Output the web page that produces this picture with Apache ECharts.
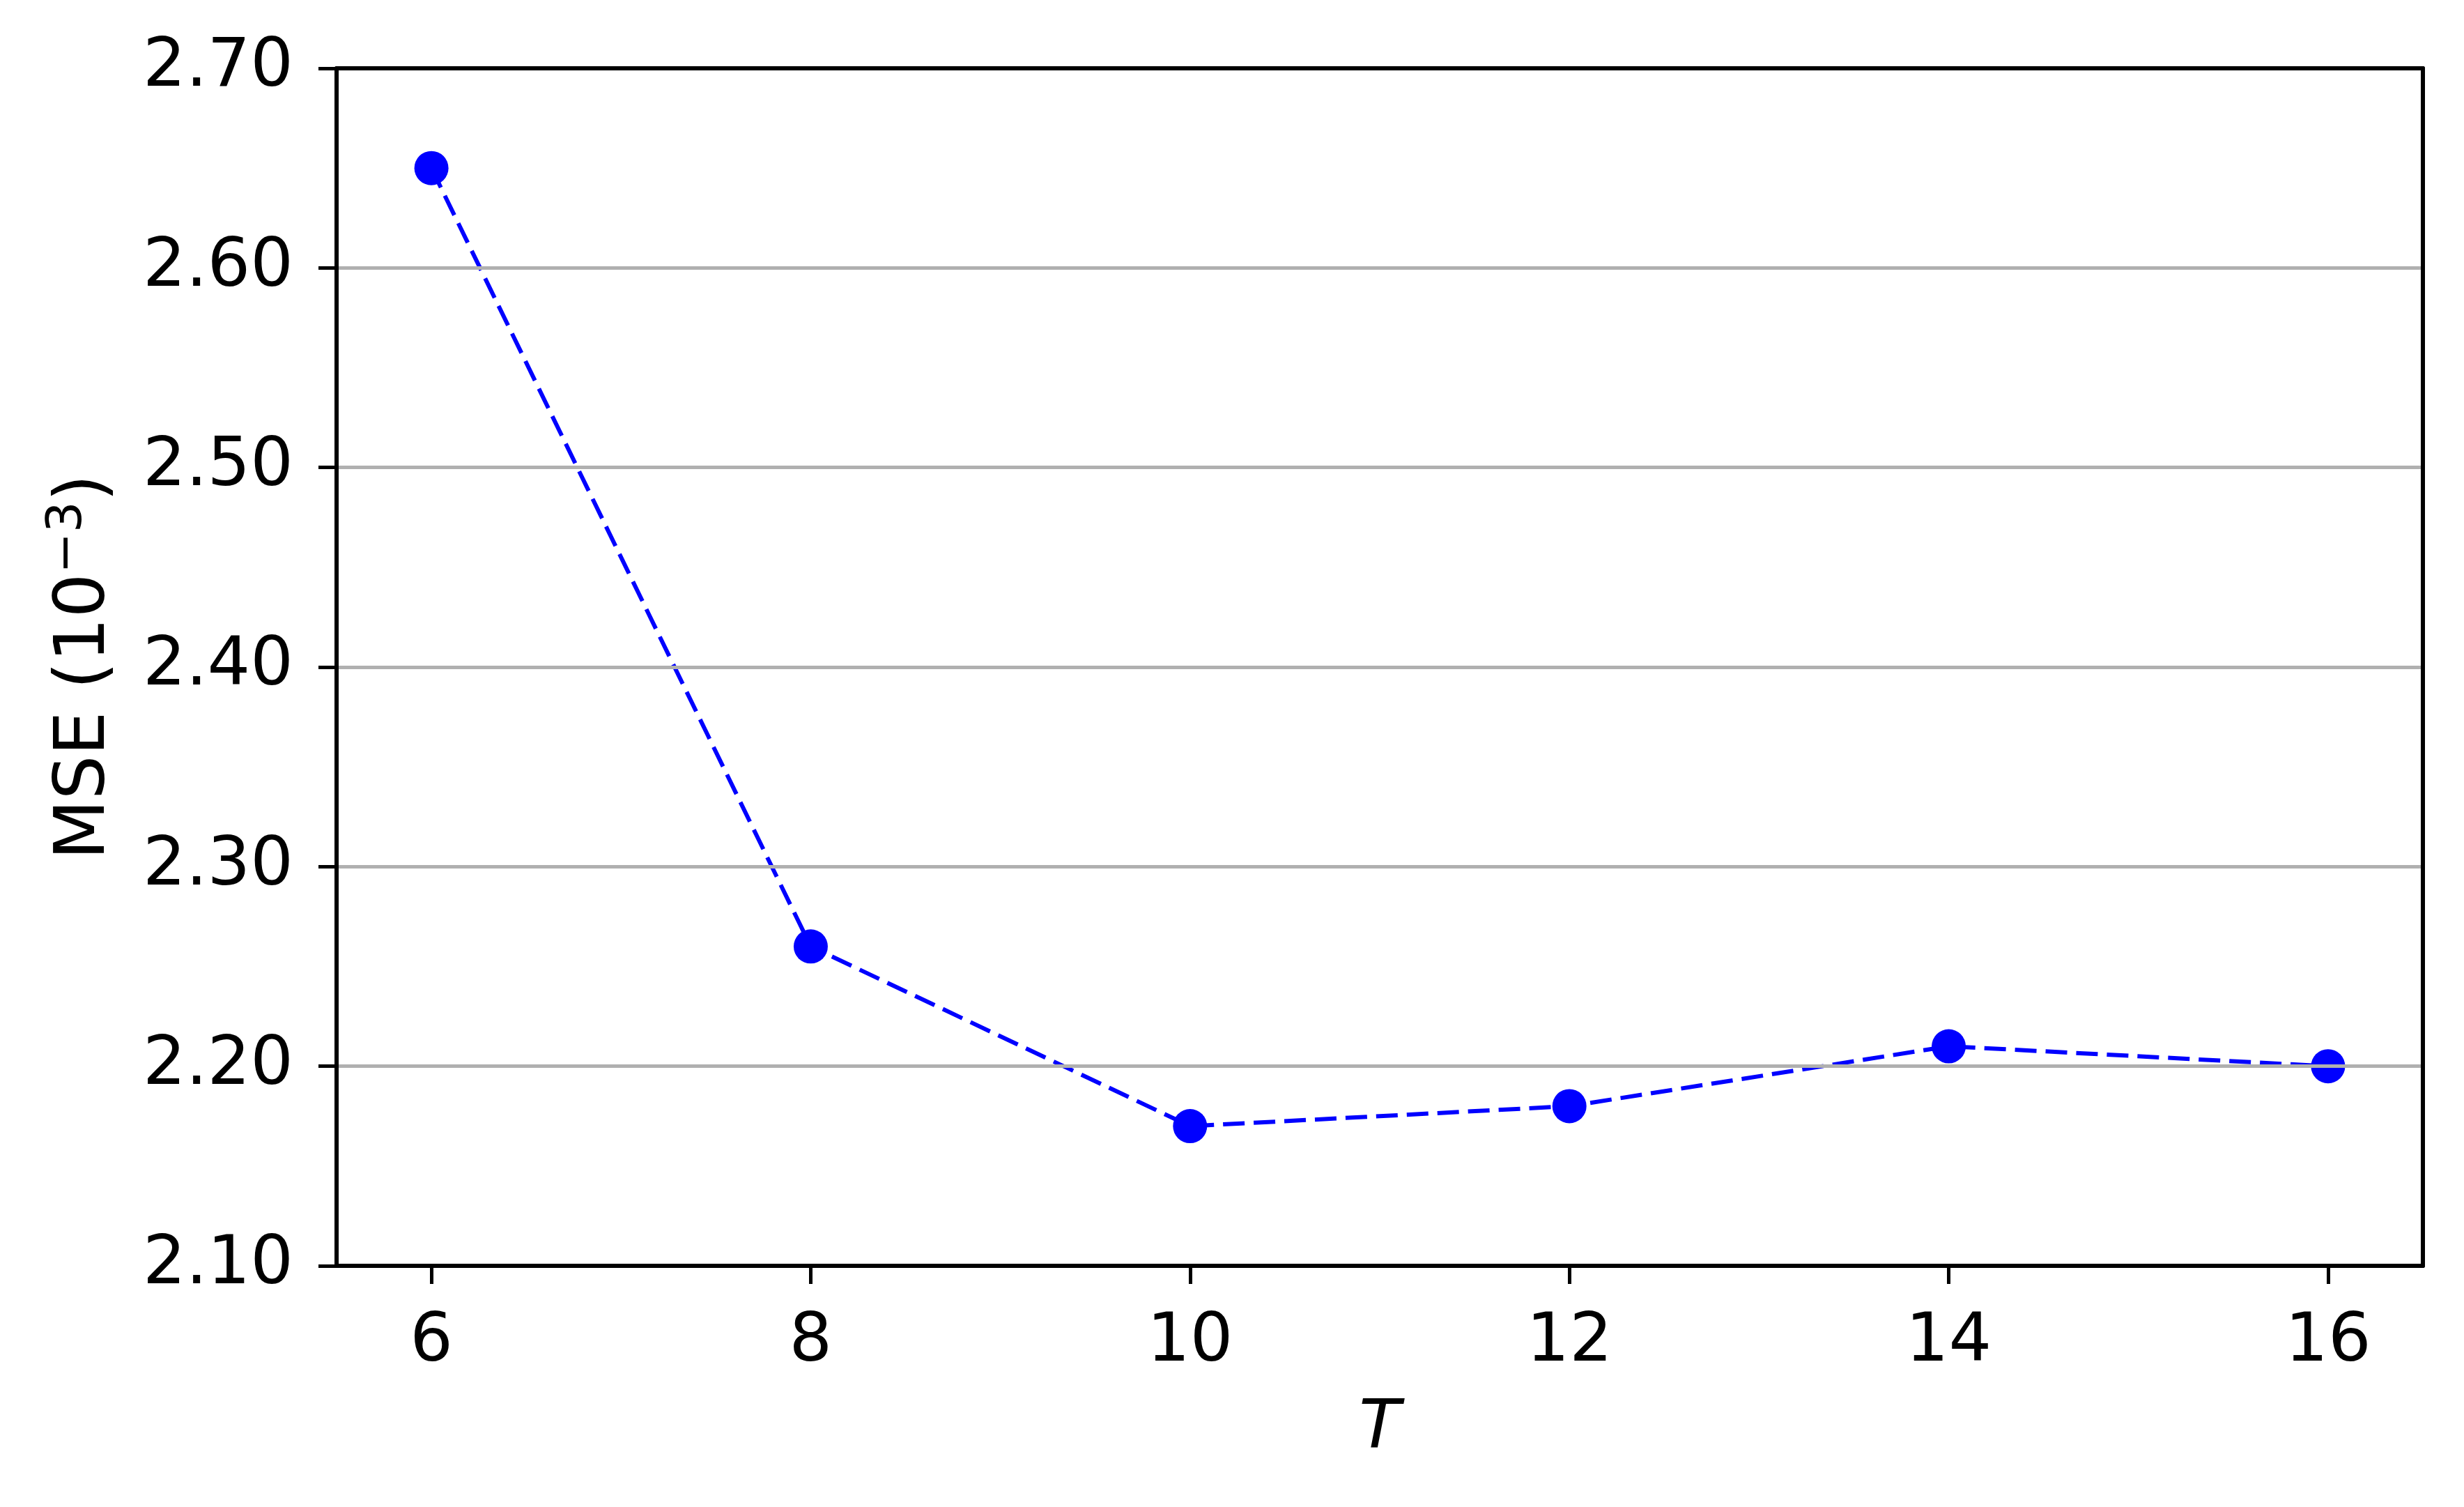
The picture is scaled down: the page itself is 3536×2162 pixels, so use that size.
<!DOCTYPE html>
<html>
<head>
<meta charset="utf-8">
<script src="https://cdn.jsdelivr.net/npm/echarts@6/dist/echarts.min.js"></script>
<style>
html,body{margin:0;padding:0;background:#fff;}
#chart{width:3536px;height:2162px;}
</style>
</head>
<body>
<div id="chart"></div>
<script>
const T_VALUES = [6, 8, 10, 12, 14, 16];
const MSE_VALUES = [2.65, 2.26, 2.17, 2.18, 2.21, 2.20];
const X_TICKS = [6, 8, 10, 12, 14, 16];
const Y_TICKS = [2.10, 2.20, 2.30, 2.40, 2.50, 2.60, 2.70];

const FONT = 'DejaVu Sans';
const FS = 97;
const AXIS_LINE = {show: true, lineStyle: {color: '#000', width: 6}};
const chart = echarts.init(document.getElementById('chart'), null, {renderer: 'canvas'});
chart.setOption({
  animation: false,
  backgroundColor: '#ffffff',
  grid: {left: 483, right: 59, top: 98, bottom: 346, show: false},
  xAxis: [{
    type: 'value', min: 5.5, max: 16.5, position: 'bottom',
    name: 'T', nameLocation: 'middle', nameGap: 186,
    nameTextStyle: {fontFamily: FONT, fontSize: FS, fontStyle: 'italic', color: '#000'},
    axisLine: AXIS_LINE,
    axisTick: {show: true, length: 26, inside: false, customValues: X_TICKS, lineStyle: {color: '#000', width: 5}},
    axisLabel: {customValues: X_TICKS, margin: 62, fontFamily: FONT, fontSize: FS, color: '#000'},
    splitLine: {show: false},
    z: 10
  }, {
    type: 'value', min: 5.5, max: 16.5, position: 'top',
    axisLine: AXIS_LINE, axisTick: {show: false}, axisLabel: {show: false}, splitLine: {show: false},
    z: 10
  }],
  yAxis: [{
    type: 'value', min: 2.1, max: 2.7, interval: 0.1, position: 'left',
    name: '{a|MSE (10}{s|−3}{a|)}', nameLocation: 'middle', nameGap: 300, nameRotate: 90,
    nameTextStyle: {
      fontFamily: FONT, fontSize: 100, color: '#000',
      rich: {
        a: {fontFamily: FONT, fontSize: 100, color: '#000', lineHeight: 120},
        s: {fontFamily: FONT, fontSize: 70, color: '#000', verticalAlign: 'top', lineHeight: 120, padding: [0,0,30,0]}
      }
    },
    axisLine: AXIS_LINE,
    axisTick: {show: true, length: 26, inside: false, lineStyle: {color: '#000', width: 5}},
    axisLabel: {
      margin: 62, fontFamily: FONT, fontSize: FS, color: '#000',
      customValues: Y_TICKS,
      formatter: v => v.toFixed(2)
    },
    splitLine: {show: true, lineStyle: {color: '#b0b0b0', width: 5}},
    z: 10
  }, {
    type: 'value', min: 2.1, max: 2.7, interval: 0.1, position: 'right',
    axisLine: AXIS_LINE, axisTick: {show: false}, axisLabel: {show: false}, splitLine: {show: false},
    z: 10
  }],
  series: [{
    type: 'line',
    xAxisIndex: 0, yAxisIndex: 0,
    data: T_VALUES.map((t, i) => [t, MSE_VALUES[i]]),
    symbol: 'circle', symbolSize: 49,
    itemStyle: {color: '#0000ff'},
    lineStyle: {color: '#0000ff', width: 6, type: [31, 13]},
    z: 5
  }]
});
</script>
</body>
</html>
